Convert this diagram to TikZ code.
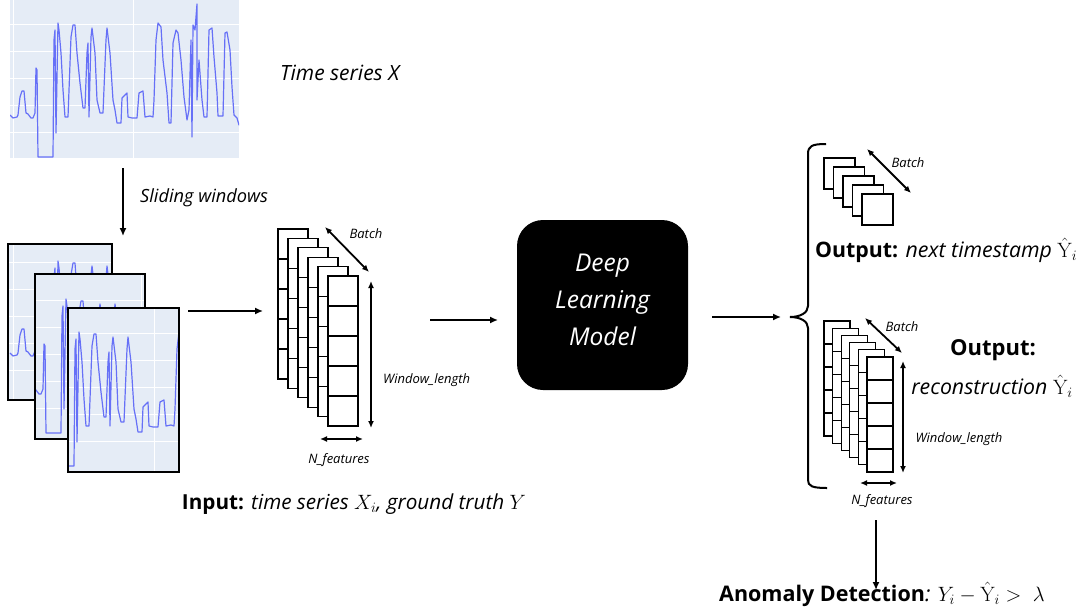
\documentclass[tikz,border=0pt]{standalone}
\usepackage[no-math]{fontspec}
\setmainfont{Open Sans}
\usetikzlibrary{arrows.meta}
\definecolor{plotbg}{HTML}{E5ECF6}
\definecolor{plotline}{HTML}{6670F7}
\tikzset{
  seriesline/.style={plotline, line width=1.2pt, line join=round},
  gridline/.style={white, line width=0.8pt},
  framebox/.style={draw=black, line width=2pt},
  arr/.style={-{Latex[length=8pt,width=7pt]}, line width=1.5pt},
  dimarr/.style={{Latex[length=7pt,width=6pt]}-{Latex[length=7pt,width=6pt]}, line width=1.8pt},
  cellbox/.style={draw=black, fill=white, line width=1.3pt},
  lbl/.style={font=\fontsize{21}{24}\selectfont\itshape, inner sep=0pt},
  small/.style={font=\fontsize{13}{15}\selectfont\itshape, inner sep=0pt},
  model/.style={fill=black, rounded corners=26pt, minimum width=171pt, minimum height=170pt, text=white, align=center, font=\fontsize{24.5}{37}\selectfont\itshape},
  brace/.style={line width=2pt},
  series/.pic={
    \foreach \gy in {24,51,78,105,132} \draw[gridline] (-60,\gy) -- (300,\gy);
    \foreach \gx in {13,133} \draw[gridline] (\gx,-60) -- (\gx,250);
    \draw[seriesline] (10,115) -- (13,118) -- (17,117) -- (18,115) -- (20,97) -- (22,91) -- (24,91) -- (26,113) -- (28,114) -- (31,118) -- (33,118) -- (35,113) -- (36,68) -- (37,70) -- (38,157) -- (53,157) -- (54,40) -- (55,30) -- (56,133) -- (58,23) -- (59,30) -- (61,53) -- (63,90) -- (65,117) -- (68,117) -- (71,37) -- (73,25) -- (75,25) -- (77,53) -- (80,83) -- (83,108) -- (85,108) -- (87,53) -- (88,43) -- (89,117) -- (91,37) -- (92,28) -- (95,53) -- (97,100) -- (100,113) -- (103,113) -- (106,40) -- (107,28) -- (110,53) -- (113,100) -- (115,110) -- (117,123) -- (121,123) -- (122,98) -- (127,93) -- (128,117) -- (132,118) -- (137,118) -- (139,93) -- (143,91) -- (145,117) -- (150,116) -- (153,117) -- (154,100) -- (156,40) -- (158,23) -- (161,27) -- (163,60) -- (167,93) -- (169,123) -- (171,123) -- (173,43) -- (176,30) -- (178,33) -- (181,60) -- (184,97) -- (187,120) -- (189,110) -- (191,40) -- (192,137) -- (193,25) -- (195,30) -- (197,4) -- (197,100) -- (199,60) -- (202,100) -- (204,117) -- (207,117) -- (209,30) -- (212,28) -- (214,57) -- (217,93) -- (218,116) -- (223,116) -- (225,33) -- (227,32) -- (230,50) -- (232,87) -- (234,115) -- (237,118) -- (239,125) -- (245,126) -- (250,120);
  }
}
\begin{document}
\begin{tikzpicture}[x=1pt,y=-1pt]
\useasboundingbox (0,0) rectangle (1091,613);

% top time series
\begin{scope}
  \clip (10,0) rectangle (239,158);
  \fill[plotbg] (10,0) rectangle (239,158);
  \pic {series};
\end{scope}
\node[inner sep=0, minimum width=229pt, minimum height=158pt] (ts) at (124.5,79) {};
\node[lbl, anchor=west] (tslbl) at (280,73) {Time series X};

% sliding windows arrow
\coordinate (sw1) at (123,168);
\coordinate (sw2) at (123,236);
\draw[arr] (sw1) -- (sw2);
\node[lbl, font=\fontsize{18.2}{20}\selectfont\itshape, anchor=west] (swlbl) at (140,198) {Sliding windows};

% windows
\begin{scope}
  \clip (8,244) rectangle (112,400);
  \fill[plotbg] (8,244) rectangle (112,400);
  \pic[shift={(0,238)}] {series};
\end{scope}
\draw[framebox] (8,244) rectangle (112,400);
\begin{scope}
  \clip (35,274) rectangle (145,439);
  \fill[plotbg] (35,274) rectangle (145,439);
  \pic[shift={(8,276)}] {series};
\end{scope}
\draw[framebox] (35,274) rectangle (145,439);
\begin{scope}
  \clip (68,308) rectangle (179,472);
  \fill[plotbg] (68,308) rectangle (179,472);
  \pic[shift={(21,309)}] {series};
\end{scope}
\draw[framebox] (68,308) rectangle (179,472);
\node[inner sep=0, minimum width=171pt, minimum height=228pt] (wins) at (93.5,358) {};

\coordinate (a2s) at (188,311);
\coordinate (a2e) at (263,311);
\draw[arr] (a2s) -- (a2e);

% input tensor stack
\foreach \k in {0,...,5} {
  \draw[cellbox] ({278+\k*10},{229+\k*9.4}) rectangle ++(30,150);
  \foreach \j in {1,...,4} \draw[line width=1.3pt] ({278+\k*10},{229+\k*9.4+\j*30}) -- ++(30,0);
}
\coordinate (ib1) at (325,227); \coordinate (ib2) at (369,272);
\draw[dimarr] (ib1) -- (ib2);
\node[small] (iblbl) at (366,234) {Batch};
\coordinate (iw1) at (371,281); \coordinate (iw2) at (371,428);
\draw[dimarr] (iw1) -- (iw2);
\node[small, anchor=west] (iwlbl) at (383,380) {Window\_length};
\coordinate (in1) at (320,439); \coordinate (in2) at (363,439);
\draw[dimarr] (in1) -- (in2);
\node[small] (inlbl) at (339,460) {N\_features};

\node[inner sep=0, font=\fontsize{20.7}{22}\selectfont] (inputlbl) at (354,504) {\textbf{Input:} \textit{time series $X_i$, ground truth $Y$}};

\coordinate (a3s) at (430,320);
\coordinate (a3e) at (498,320);
\draw[arr] (a3s) -- (a3e);

% model
\node[model] (dl) at (602.5,305) {};
\node[text=white, font=\fontsize{24.5}{37}\selectfont\itshape, align=center, inner sep=0] (dltxt) at (602.5,300) {Deep\\Learning\\Model};

\coordinate (a4s) at (712,317);
\coordinate (a4e) at (781,317);
\draw[arr] (a4s) -- (a4e);

% brace
\coordinate (brtip) at (790,317);
\draw[brace] (826,144) .. controls (812,144) and (808,146) .. (808,154) -- (808,306) .. controls (808,313) and (800,317) .. (brtip) .. controls (800,317) and (808,321) .. (808,328) -- (808,480) .. controls (808,486) and (812,488) .. (827,488);

% top output stack
\foreach \k in {0,...,4} {
  \draw[cellbox] ({824+\k*9.5},{158+\k*9}) rectangle ++(31,31);
}
\coordinate (tb1) at (867,149); \coordinate (tb2) at (911,193);
\draw[dimarr] (tb1) -- (tb2);
\node[small] (tblbl) at (908,163) {Batch};
\node[inner sep=0, font=\fontsize{21.3}{24}\selectfont, anchor=west] (out1) at (815,250) {\textbf{Output:} \textit{next timestamp} $\hat{\mathrm{Y}}_i$};

% bottom output stack
\foreach \k in {0,...,5} {
  \draw[cellbox] ({824+\k*8.6},{321+\k*7.2}) rectangle ++(26,115);
  \foreach \j in {1,...,4} \draw[line width=1.3pt] ({824+\k*8.6},{321+\k*7.2+\j*23}) -- ++(26,0);
}
\coordinate (bb1) at (865,318); \coordinate (bb2) at (902,353);
\draw[dimarr] (bb1) -- (bb2);
\node[small] (bblbl) at (902,327) {Batch};
\coordinate (bw1) at (903,361); \coordinate (bw2) at (903,473);
\draw[dimarr] (bw1) -- (bw2);
\node[small] (bwlbl) at (959,439) {Window\_length};
\coordinate (bn1) at (860,483); \coordinate (bn2) at (897,483);
\draw[dimarr] (bn1) -- (bn2);
\node[small] (bnlbl) at (882,501) {N\_features};

\node[inner sep=0, font=\fontsize{22}{24}\selectfont\bfseries] (out2a) at (993,350) {Output:};
\node[inner sep=0, font=\fontsize{21.3}{24}\selectfont\itshape] (out2b) at (992,386) {reconstruction $\hat{\mathrm{Y}}_i$};

\coordinate (a5s) at (876,520);
\coordinate (a5e) at (876,590);
\draw[arr] (a5s) -- (a5e);
\node[inner sep=0, font=\fontsize{21.5}{24}\selectfont, anchor=west] (anom) at (719,594) {\textbf{Anomaly Detection}\textit{:} $Y_i - \hat{\mathrm{Y}}_i >\ \lambda$};
\end{tikzpicture}
\end{document}
